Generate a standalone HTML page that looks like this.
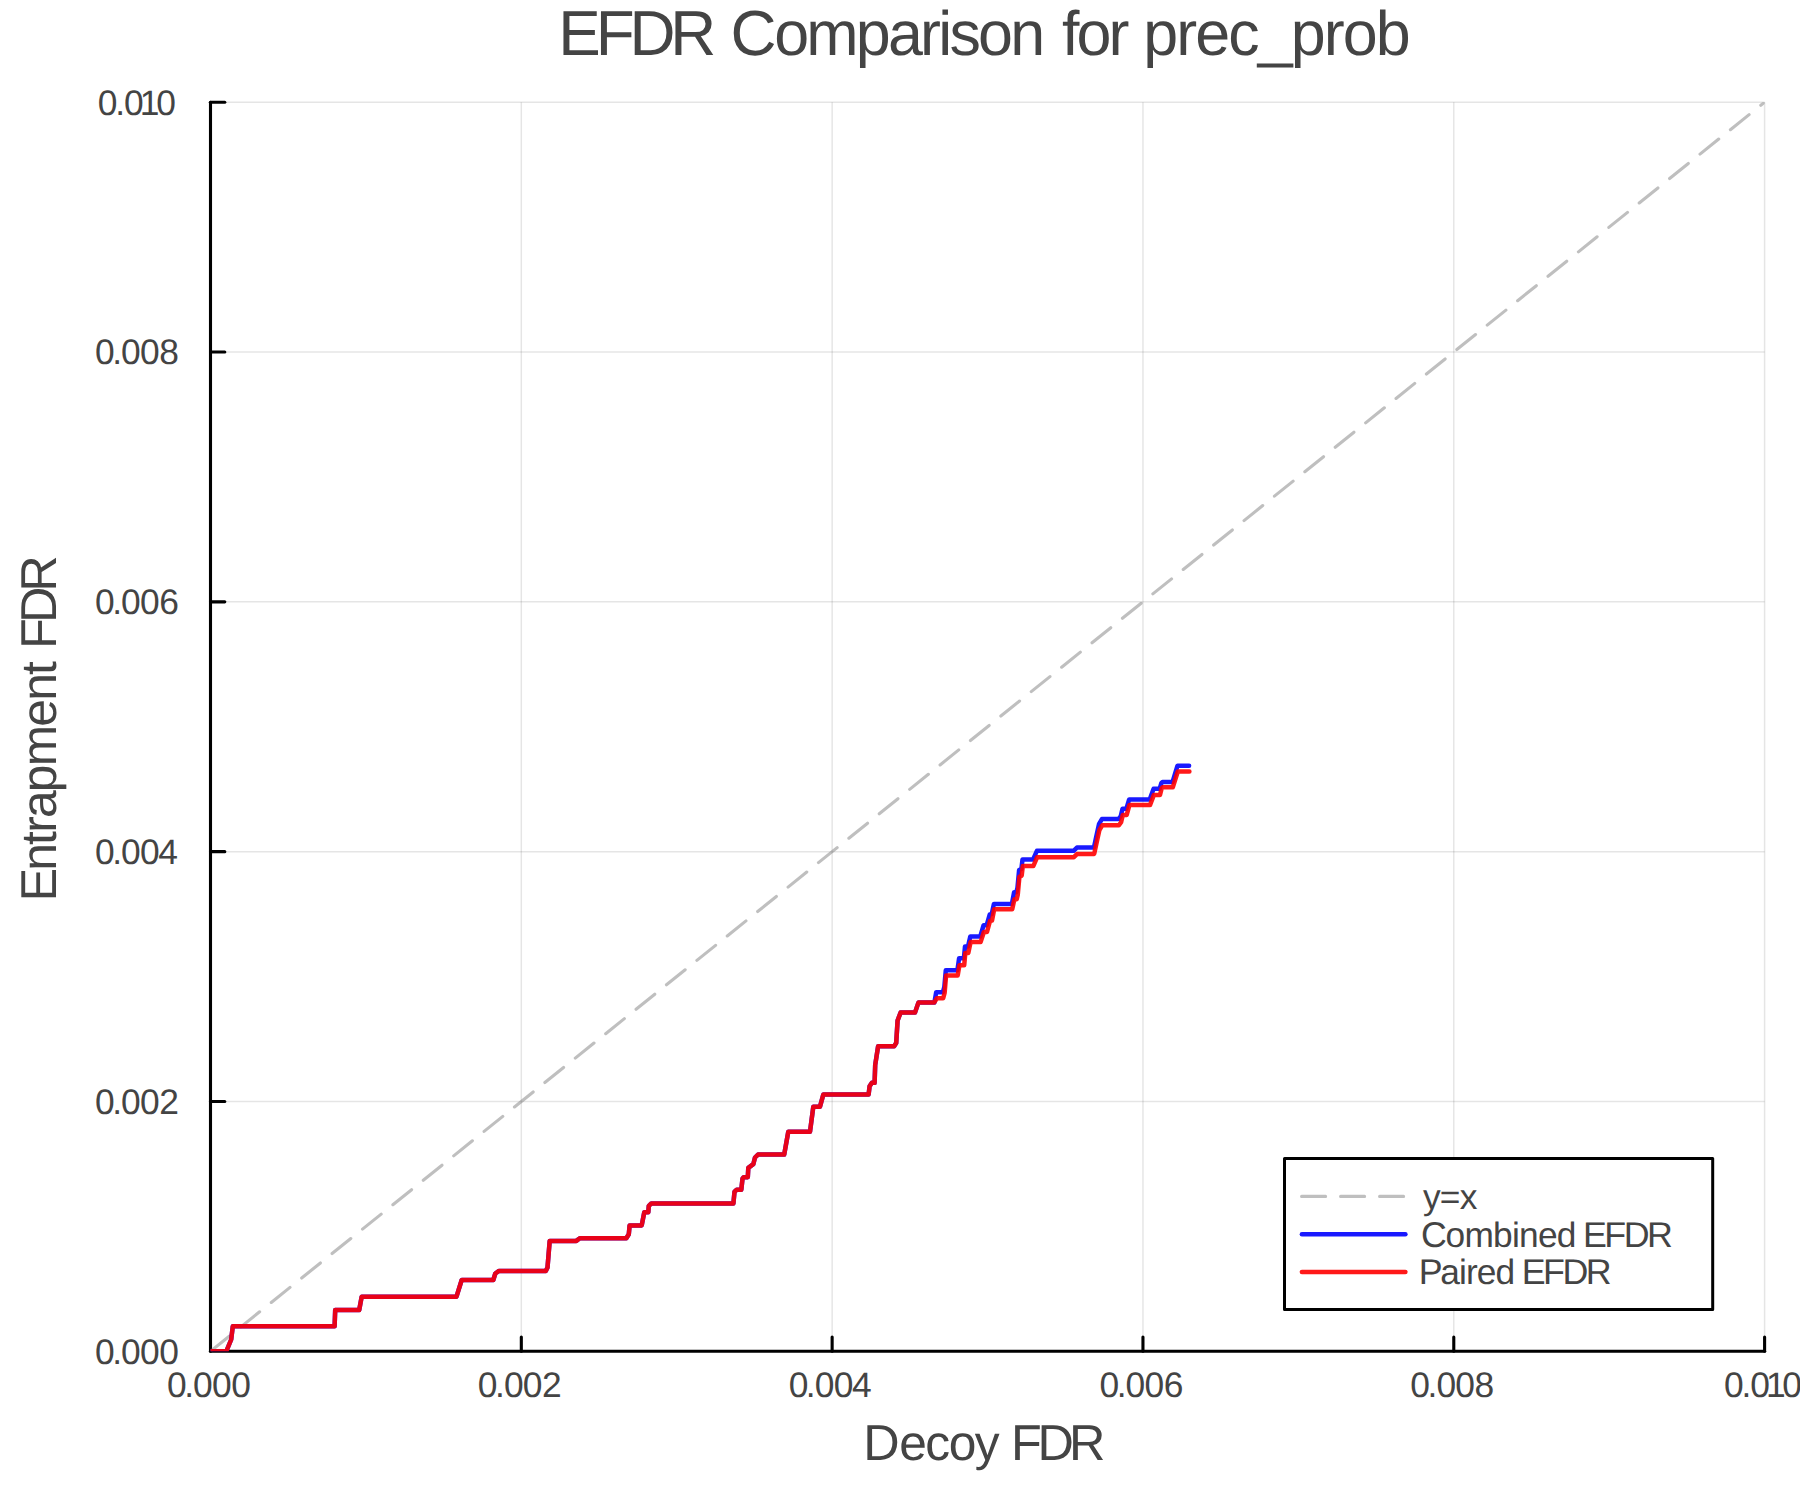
<!DOCTYPE html>
<html lang="en"><head><meta charset="utf-8"><title>EFDR Comparison for prec_prob</title>
<style>html,body{margin:0;padding:0;background:#fff}body{width:1800px;height:1500px;overflow:hidden}svg{display:block}text{font-family:"Liberation Sans",Arial,Helvetica,sans-serif;fill:#444444;white-space:pre;text-rendering:geometricPrecision}.tick{font-size:35.4px}</style></head><body>
<svg width="1800" height="1500" viewBox="0 0 1800 1500">
<rect width="1800" height="1500" fill="#ffffff"/>
<g stroke="#000" stroke-opacity="0.1" stroke-width="1.5" fill="none">
<line x1="521.32" y1="102.2" x2="521.32" y2="1351.3"/>
<line x1="832.14" y1="102.2" x2="832.14" y2="1351.3"/>
<line x1="1142.96" y1="102.2" x2="1142.96" y2="1351.3"/>
<line x1="1453.78" y1="102.2" x2="1453.78" y2="1351.3"/>
<line x1="1764.60" y1="102.2" x2="1764.60" y2="1351.3"/>
<line x1="210.5" y1="1101.48" x2="1764.6" y2="1101.48"/>
<line x1="210.5" y1="851.66" x2="1764.6" y2="851.66"/>
<line x1="210.5" y1="601.84" x2="1764.6" y2="601.84"/>
<line x1="210.5" y1="352.02" x2="1764.6" y2="352.02"/>
<line x1="210.5" y1="102.20" x2="1764.6" y2="102.20"/>
</g>
<g stroke="#000" stroke-width="3.1" fill="none" stroke-linecap="round">
<line x1="210.5" y1="1351.3" x2="1764.6" y2="1351.3"/>
<line x1="210.5" y1="1351.3" x2="210.5" y2="102.2"/>
<line x1="521.32" y1="1351.3" x2="521.32" y2="1337.0"/>
<line x1="210.5" y1="1101.48" x2="224.8" y2="1101.48"/>
<line x1="832.14" y1="1351.3" x2="832.14" y2="1337.0"/>
<line x1="210.5" y1="851.66" x2="224.8" y2="851.66"/>
<line x1="1142.96" y1="1351.3" x2="1142.96" y2="1337.0"/>
<line x1="210.5" y1="601.84" x2="224.8" y2="601.84"/>
<line x1="1453.78" y1="1351.3" x2="1453.78" y2="1337.0"/>
<line x1="210.5" y1="352.02" x2="224.8" y2="352.02"/>
<line x1="1764.60" y1="1351.3" x2="1764.60" y2="1337.0"/>
<line x1="210.5" y1="102.20" x2="224.8" y2="102.20"/>
</g>
<clipPath id="pa"><rect x="210.5" y="102.2" width="1554.1" height="1249.1"/></clipPath><g clip-path="url(#pa)" fill="none" stroke-linejoin="round" stroke-linecap="round">
<line x1="210.5" y1="1351.3" x2="1764.6" y2="102.2" stroke="#808080" stroke-opacity="0.5" stroke-width="3.1" stroke-dasharray="24 15"/>
<path d="M210.5 1351.3 L226.3 1351.3 L231.2 1339.5 L232.8 1326.3 L334.6 1326.3 L335.2 1310.0 L359.2 1310.0 L361.7 1296.7 L456.5 1296.7 L461.7 1280.0 L493.3 1280.0 L495.3 1273.5 L499.0 1270.9 L545.8 1270.9 L547.5 1267.5 L549.7 1240.9 L576.3 1240.9 L579.8 1238.2 L626.3 1238.2 L628.8 1234.2 L629.6 1225.4 L641.7 1225.4 L644.3 1212.2 L648.3 1212.2 L648.8 1205.8 L651.3 1203.5 L733.4 1203.5 L734.5 1191.7 L736.7 1189.8 L741.3 1189.8 L742.5 1178.7 L743.7 1177.2 L747.8 1177.2 L748.3 1167.8 L753.3 1164.2 L755.0 1157.5 L758.0 1154.6 L784.2 1154.6 L788.3 1131.7 L810.0 1131.7 L813.3 1106.7 L820.0 1106.7 L823.3 1094.6 L868.6 1094.6 L869.6 1086.3 L871.9 1082.8 L874.6 1082.8 L875.2 1065.0 L878.1 1046.3 L894.1 1046.3 L896.2 1043.0 L897.6 1020.5 L900.6 1012.6 L915.0 1012.6 L918.4 1002.6 L934.4 1002.6 L936.2 992.2 L942.9 992.2 L944.3 987.1 L945.8 970.2 L957.4 970.2 L959.1 958.2 L963.9 958.2 L965.0 946.5 L968.0 946.5 L970.3 936.5 L980.3 936.5 L983.6 925.2 L986.7 925.2 L989.7 914.5 L991.7 914.1 L993.9 903.9 L1011.9 903.9 L1014.1 892.2 L1016.4 892.2 L1017.5 887.5 L1019.1 870.1 L1021.4 869.0 L1022.5 859.6 L1033.0 859.6 L1036.9 850.8 L1073.6 850.8 L1076.9 847.6 L1093.9 847.6 L1096.4 835.9 L1099.1 823.8 L1101.9 819.1 L1118.6 819.1 L1120.8 816.0 L1122.5 808.7 L1126.4 808.7 L1129.1 799.6 L1149.7 799.6 L1153.6 788.7 L1159.7 788.7 L1161.4 783.0 L1162.5 782.1 L1172.5 782.1 L1177.5 765.7 L1189.1 765.7" stroke="#0000ff" stroke-opacity="0.9" stroke-width="4.5"/>
<path d="M210.5 1351.3 L226.3 1351.3 L231.2 1339.5 L232.8 1326.3 L334.6 1326.3 L335.2 1310.0 L359.2 1310.0 L361.7 1296.7 L456.5 1296.7 L461.7 1280.0 L493.3 1280.0 L495.3 1273.5 L499.0 1270.9 L545.8 1270.9 L547.5 1267.5 L549.7 1240.9 L576.3 1240.9 L579.8 1238.2 L626.3 1238.2 L628.8 1234.2 L629.6 1225.4 L641.7 1225.4 L644.3 1212.2 L648.3 1212.2 L648.8 1205.8 L651.3 1203.5 L733.4 1203.5 L734.5 1191.7 L736.7 1189.8 L741.3 1189.8 L742.5 1178.7 L743.7 1177.2 L747.8 1177.2 L748.3 1167.8 L753.3 1164.2 L755.0 1157.5 L758.0 1154.6 L784.2 1154.6 L788.3 1131.7 L810.0 1131.7 L813.3 1106.7 L820.0 1106.7 L823.3 1094.6 L868.6 1094.6 L869.6 1086.3 L871.9 1082.8 L874.6 1082.8 L875.2 1065.0 L878.1 1046.3 L894.1 1046.3 L896.2 1043.0 L897.6 1020.5 L900.6 1012.6 L915.0 1012.6 L918.4 1002.6 L934.2 1002.6 L936.9 998.3 L943.2 998.3 L944.6 993.0 L946.1 975.4 L957.7 975.4 L959.4 965.3 L964.2 965.3 L965.3 953.0 L968.3 953.0 L970.6 942.1 L980.6 942.1 L983.9 932.0 L987.0 932.0 L990.0 921.0 L992.0 920.6 L994.2 909.3 L1012.2 909.3 L1014.4 899.2 L1016.7 899.2 L1017.8 894.4 L1019.4 876.7 L1021.7 875.6 L1022.8 866.1 L1033.3 866.1 L1037.2 857.2 L1073.9 857.2 L1077.2 853.9 L1094.2 853.9 L1096.7 842.2 L1099.4 830.0 L1102.2 825.3 L1118.9 825.3 L1121.1 822.2 L1122.8 814.9 L1126.7 814.9 L1129.4 805.1 L1150.0 805.1 L1153.9 794.9 L1160.0 794.9 L1161.7 788.3 L1162.8 787.2 L1172.8 787.2 L1177.8 771.5 L1189.4 771.5" stroke="#ff0000" stroke-opacity="0.9" stroke-width="4.5"/>
</g>
<text class="tick" x="167.02 184.23 193.12 212.02 231.32" y="1396.75">0.000</text>
<text class="tick" x="477.84 495.05 503.94 522.84 542.07" y="1396.75">0.002</text>
<text class="tick" x="788.66 805.87 814.76 833.66 851.94" y="1396.75">0.004</text>
<text class="tick" x="1099.48 1116.69 1125.58 1144.48 1163.86" y="1396.75">0.006</text>
<text class="tick" x="1410.30 1427.51 1436.40 1455.30 1474.58" y="1396.75">0.008</text>
<text class="tick" x="1724.06 1741.45 1750.16 1765.95 1782.36" y="1396.75">0.010</text>
<text class="tick" x="94.92 112.13 121.02 139.92 159.22" y="1363.70">0.000</text>
<text class="tick" x="94.92 112.13 121.02 139.92 159.15" y="1113.88">0.002</text>
<text class="tick" x="94.92 112.13 121.02 139.92 158.20" y="864.06">0.004</text>
<text class="tick" x="94.92 112.13 121.02 139.92 159.30" y="614.24">0.006</text>
<text class="tick" x="94.92 112.13 121.02 139.92 159.20" y="364.42">0.008</text>
<text class="tick" x="97.86 115.25 123.96 139.75 156.16" y="114.60">0.010</text>
<text y="54.5"><tspan x="558.25 595.65 629.55 670.2" font-size="63.7">EFDR</tspan> <tspan x="730.52" font-size="63.7">C</tspan><tspan x="774.15" font-size="62.8" letter-spacing="-2.781">omparison</tspan> <tspan x="1062.1" font-size="62.8" letter-spacing="-3.025">for</tspan> <tspan x="1143.2" font-size="62.8" letter-spacing="-1.919">prec_prob</tspan></text>
<text y="1459.8"><tspan x="863.32" font-size="50.4">D</tspan><tspan x="899.2" font-size="49.7" letter-spacing="-1.517">ecoy</tspan> <tspan x="1011.05 1037.45 1069.1" font-size="50.4">FDR</tspan></text>
<g transform="translate(55.9 896.4) rotate(-90)"><text y="0"><tspan x="-5.03" font-size="50.4">E</tspan><tspan x="25.65" font-size="49.7" letter-spacing="-1.769">ntrapment</tspan> <tspan x="247.35 273.35 304.6" font-size="50.4">FDR</tspan></text></g>
<rect x="1284.5" y="1158.6" width="428.2" height="151" fill="#ffffff" stroke="#000" stroke-width="3.0" stroke-linejoin="round"/>
<line x1="1301.6" y1="1196.4" x2="1404" y2="1196.4" stroke="#808080" stroke-opacity="0.5" stroke-width="3.1" stroke-dasharray="24 15" stroke-linecap="round"/>
<line x1="1301.9" y1="1234.2" x2="1405.4" y2="1234.2" stroke="#0000ff" stroke-opacity="0.9" stroke-width="4.5" stroke-linecap="round"/>
<line x1="1301.9" y1="1271.9" x2="1405.4" y2="1271.9" stroke="#ff0000" stroke-opacity="0.9" stroke-width="4.5" stroke-linecap="round"/>
<text y="1208.9"><tspan x="1422.95" font-size="35.3" letter-spacing="-0.775">y=x</tspan></text>
<text y="1246.8"><tspan x="1420.88" font-size="35.8">C</tspan><tspan x="1445.5" font-size="35.3" letter-spacing="-0.733">ombined</tspan> <tspan x="1583.0 1604.25 1623.75 1647.0" font-size="35.8">EFDR</tspan></text>
<text y="1284.0"><tspan x="1418.85" font-size="35.8">P</tspan><tspan x="1440.2" font-size="35.3" letter-spacing="-0.863">aired</tspan> <tspan x="1521.8 1543.05 1562.55 1585.8" font-size="35.8">EFDR</tspan></text>
</svg></body></html>
